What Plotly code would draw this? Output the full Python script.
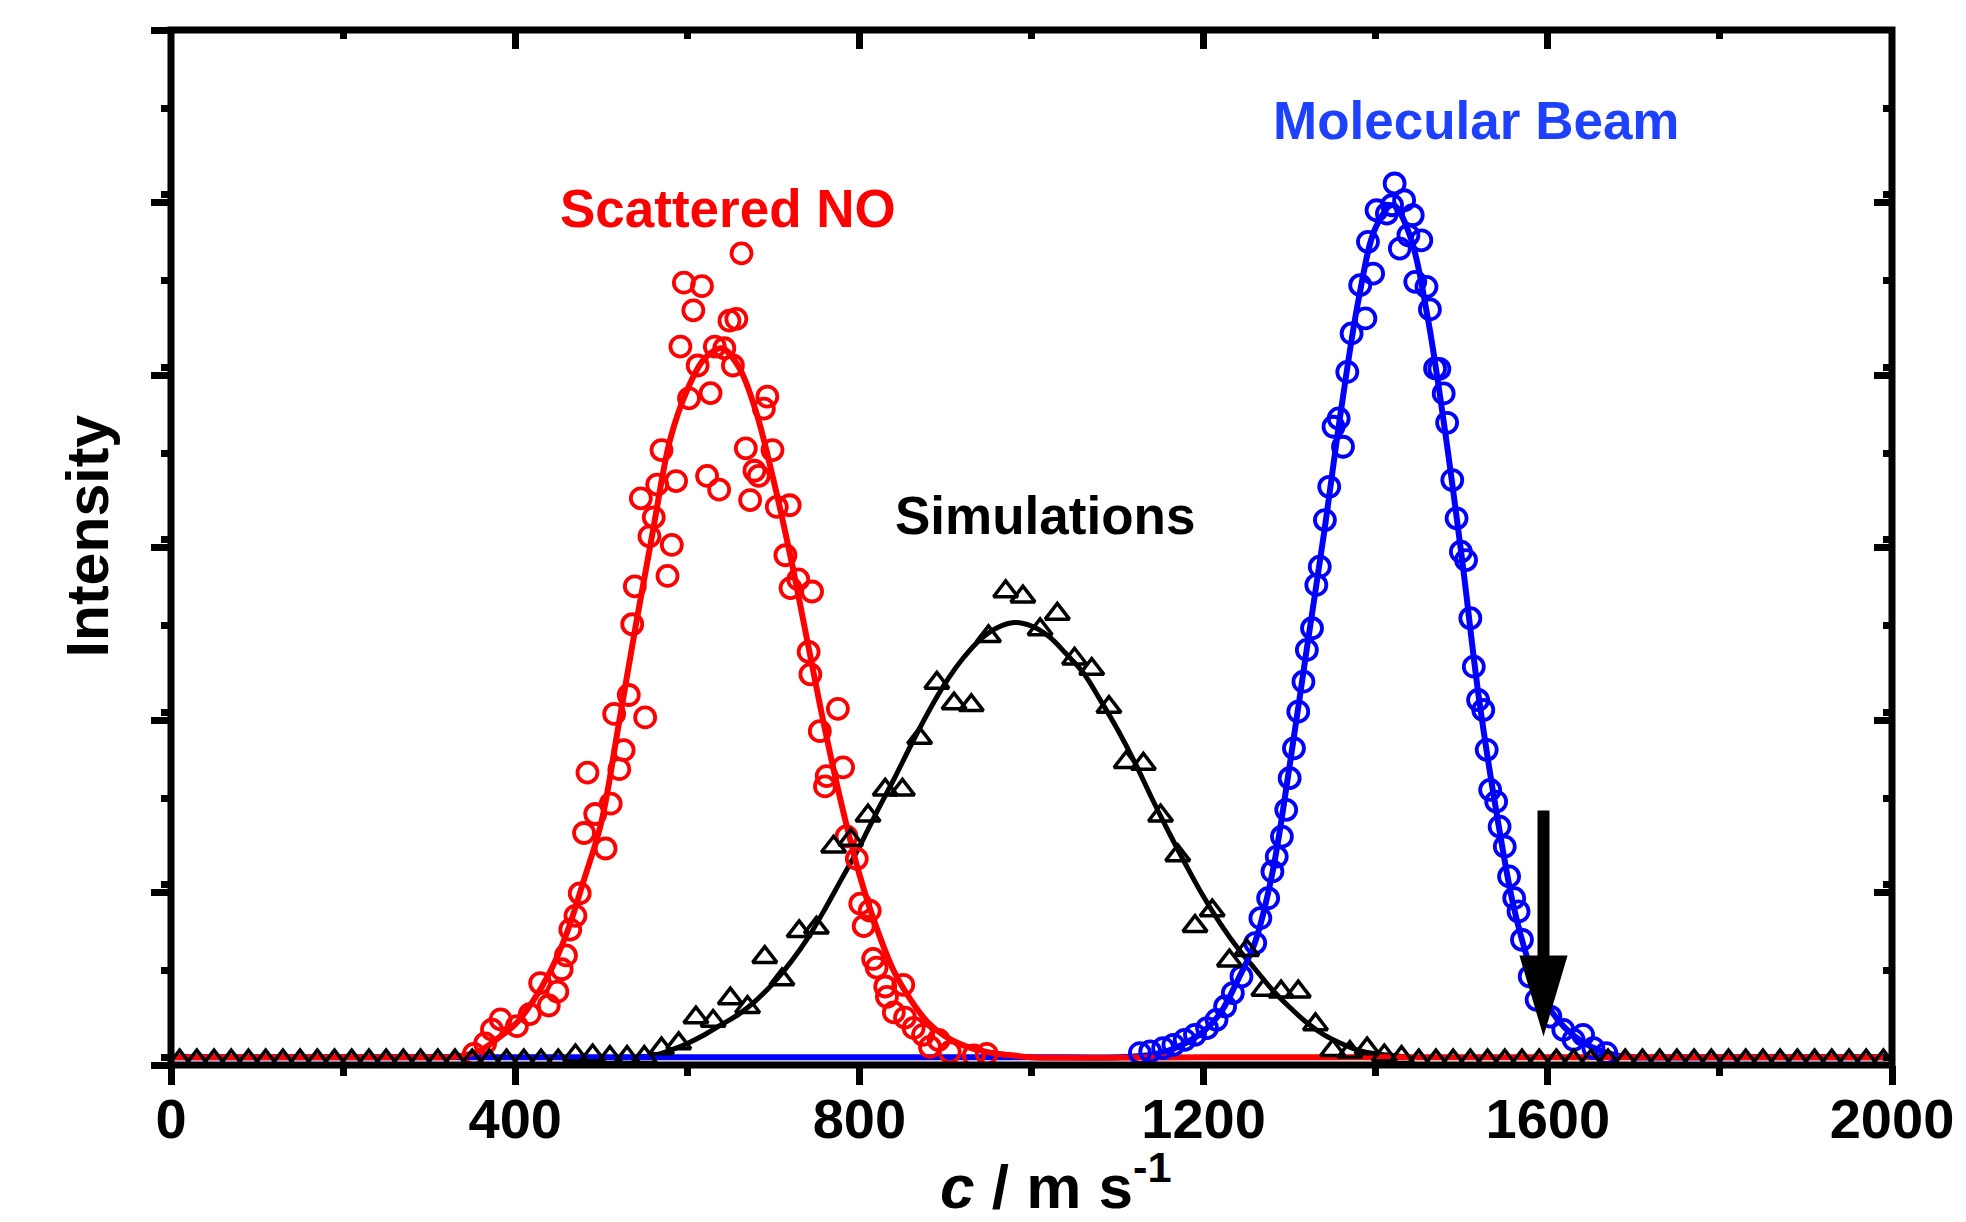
import plotly.graph_objects as go

# ---------------- Scattered NO (open red circles) ----------------
no_c = [352, 365, 373, 383, 402, 417, 429, 439, 449, 454, 459, 464, 470, 475, 480, 484,
        493, 505, 511, 515, 521, 526, 532, 536, 539, 546, 551, 556, 561, 565, 570, 577,
        582, 587, 592, 596, 602, 607, 612, 617, 623, 627, 632, 637, 643, 649, 653, 657,
        663, 668, 673, 678, 683, 689, 693, 699, 704, 714, 719, 720, 729, 741, 743, 745,
        754, 760, 762, 775, 781, 785, 797, 801, 805, 812, 816, 820, 830, 832, 840, 851,
        853, 863, 874, 882, 892, 905, 933, 948]
no_i = [0.02, 0.08, 0.16, 0.22, 0.18, 0.25, 0.43, 0.30, 0.38, 0.51, 0.59, 0.74, 0.82, 0.95, 1.30, 1.65,
        1.41, 1.21, 1.47, 1.99, 1.67, 1.78, 2.10, 2.51, 2.73, 3.24, 1.97, 3.02, 3.13, 3.32, 3.52, 2.79,
        2.97, 3.34, 4.12, 4.49, 3.82, 4.33, 4.01, 4.47, 3.37, 3.85, 4.12, 3.29, 4.11, 4.27, 4.01, 4.28,
        4.66, 3.53, 3.23, 3.40, 3.37, 3.76, 3.83, 3.52, 3.19, 2.91, 3.20, 2.72, 2.77, 2.35, 2.22, 2.70,
        1.89, 1.57, 1.63, 2.02, 1.68, 1.28, 1.15, 0.89, 0.76, 0.85, 0.57, 0.52, 0.41, 0.35, 0.26, 0.42,
        0.23, 0.17, 0.13, 0.06, 0.10, 0.03, 0.01, 0.02]

no_fit_c = [0, 150, 300, 320, 340, 360, 380, 400, 420, 440, 460, 480, 500, 520, 540, 560, 580,
            600, 620, 640, 660, 680, 700, 720, 740, 760, 780, 800, 820, 840, 860, 880, 900,
            920, 940, 960, 980, 1000, 1200, 1400, 1600, 1800, 2000]
no_fit_i = [0, 0, 0, 0, 0.01, 0.04, 0.11, 0.19, 0.32, 0.49, 0.72, 1.03, 1.36, 1.92, 2.50, 3.05, 3.58,
            3.87, 4.05, 4.11, 4.00, 3.74, 3.35, 2.90, 2.40, 1.90, 1.45, 1.06, 0.75, 0.50, 0.33, 0.20, 0.12,
            0.07, 0.04, 0.02, 0.01, 0, 0, 0, 0, 0, 0]

# ---------------- Molecular beam (open blue circles) ----------------
mb_c = [1126, 1138, 1153, 1165, 1178, 1190, 1204, 1215, 1225, 1234, 1244, 1260, 1266, 1275, 1280,
        1285, 1291, 1296, 1300, 1305, 1310, 1316, 1320, 1326, 1331, 1335, 1341, 1346, 1351, 1357,
        1362, 1367, 1372, 1382, 1388, 1391, 1397, 1401, 1413, 1419, 1422, 1428, 1433, 1438, 1443,
        1446, 1453, 1459, 1463, 1469, 1474, 1479, 1483, 1489, 1494, 1499, 1505, 1510, 1514, 1519,
        1525, 1529, 1533, 1540, 1544, 1550, 1555, 1561, 1566, 1570, 1579, 1587, 1603, 1618, 1630,
        1641, 1653, 1668]
mb_i = [0.024, 0.034, 0.053, 0.072, 0.101, 0.130, 0.169, 0.217, 0.294, 0.372, 0.468, 0.662, 0.806, 0.922, 1.077,
        1.163, 1.279, 1.434, 1.618, 1.791, 2.004, 2.177, 2.361, 2.487, 2.738, 2.844, 3.114, 3.307, 3.655, 3.703,
        3.539, 3.973, 4.196, 4.476, 4.283, 4.727, 4.543, 4.910, 4.891, 4.939, 5.065, 4.688, 4.968, 4.765, 4.881,
        4.495, 4.736, 4.466, 4.335, 3.993, 3.990, 3.848, 3.678, 3.346, 3.124, 2.931, 2.882, 2.545, 2.264, 2.071,
        2.013, 1.782, 1.550, 1.482, 1.337, 1.221, 1.048, 0.922, 0.845, 0.681, 0.468, 0.333, 0.236, 0.159, 0.101,
        0.130, 0.053, 0.024]

mb_fit_c = [0, 250, 500, 750, 1000, 1100, 1120, 1140, 1160, 1180, 1200, 1220, 1240, 1260, 1280, 1300,
            1320, 1340, 1360, 1380, 1400, 1420, 1440, 1460, 1480, 1500, 1520, 1540, 1560, 1580, 1600,
            1620, 1640, 1660, 1680, 1700, 1800, 1900, 2000]
mb_fit_i = [0, 0, 0, 0, 0, 0, 0.005, 0.015, 0.04, 0.085, 0.15, 0.26, 0.45, 0.67, 1.07, 1.69,
            2.37, 3.04, 3.76, 4.39, 4.81, 4.94, 4.76, 4.30, 3.65, 2.90, 2.08, 1.43, 0.88, 0.52, 0.30,
            0.17, 0.09, 0.04, 0.01, 0, 0, 0, 0]

# ---------------- Simulations (open black triangles) ----------------
sim_c = list(range(10, 2000, 20))
sim_i = [-0.02, -0.02, -0.02, -0.02, -0.02, -0.02, -0.02, -0.02, -0.02, -0.02,
         -0.02, -0.02, -0.02, -0.02, -0.02, -0.02, -0.02, -0.02, -0.02, -0.02,
         -0.02, -0.02, -0.02, 0.01, 0.01, 0.0, 0.0, 0.0, 0.05, 0.08,
         0.23, 0.21, 0.34, 0.29, 0.58, 0.45, 0.73, 0.75, 1.22, 1.26,
         1.40, 1.55, 1.55, 1.85, 2.17, 2.05, 2.04, 2.44, 2.70, 2.67,
         2.48, 2.57, 2.31, 2.25, 2.03, 1.71, 1.70, 1.40, 1.17, 0.76,
         0.85, 0.56, 0.62, 0.39, 0.38, 0.38, 0.19, 0.04, 0.03, 0.05,
         0.01, 0.0, -0.02, -0.02, -0.02, -0.02, -0.02, -0.02, -0.02, -0.02,
         -0.02, -0.02, -0.02, -0.02, -0.02, -0.02, -0.02, -0.02, -0.02, -0.02,
         -0.02, -0.02, -0.02, -0.02, -0.02, -0.02, -0.02, -0.02, -0.02, -0.02]

sim_fit_c = [540, 560, 580, 600, 620, 640, 660, 680, 700, 720, 740, 760, 780, 800, 820, 840, 860,
             880, 900, 920, 940, 960, 980, 1000, 1020, 1040, 1060, 1080, 1100, 1120, 1140, 1160,
             1180, 1200, 1220, 1240, 1260, 1280, 1300, 1320, 1340, 1360, 1380, 1400, 1420, 1440]
sim_fit_i = [0.0, 0.01, 0.04, 0.08, 0.13, 0.19, 0.25, 0.33, 0.43, 0.55, 0.69, 0.86, 1.04, 1.22, 1.42, 1.61, 1.81,
             2.00, 2.17, 2.31, 2.42, 2.49, 2.52, 2.50, 2.44, 2.34, 2.23, 2.07, 1.90, 1.71, 1.50, 1.30,
             1.11, 0.93, 0.77, 0.63, 0.51, 0.39, 0.29, 0.20, 0.13, 0.08, 0.04, 0.02, 0.01, 0.0]

# Marker indicating the speed of interest
ARROW_C = 1595
ARROW_TOP = 1.43
ARROW_HEAD_BASE = 0.59
ARROW_TIP = 0.12
ARROW_HALF_WIDTH = 28

X_RANGE = [0, 2000]
Y_RANGE = [-0.045, 5.955]

RED = "#ff0000"
BLUE = "#0000ff"
LABEL_BLUE = "#1e40ff"
FONT = "Liberation Sans, Arial, Helvetica, sans-serif"

fig = go.Figure()

fig.add_trace(go.Scatter(x=sim_fit_c, y=sim_fit_i, mode="lines",
                         line=dict(color="black", width=5, shape="spline"), hoverinfo="skip"))
fig.add_trace(go.Scatter(x=mb_fit_c, y=mb_fit_i, mode="lines",
                         line=dict(color=BLUE, width=6, shape="spline"), hoverinfo="skip"))
fig.add_trace(go.Scatter(x=no_fit_c, y=no_fit_i, mode="lines",
                         line=dict(color=RED, width=6, shape="spline"), hoverinfo="skip"))
fig.add_trace(go.Scatter(x=mb_c, y=mb_i, mode="markers",
                         marker=dict(symbol="circle-open", size=20, color=BLUE,
                                     line=dict(width=3.8, color=BLUE))))
fig.add_trace(go.Scatter(x=no_c, y=no_i, mode="markers",
                         marker=dict(symbol="circle-open", size=20, color=RED,
                                     line=dict(width=3.8, color=RED))))
fig.add_trace(go.Scatter(x=sim_c, y=sim_i, mode="markers",
                         marker=dict(symbol="triangle-up-open", size=21, color="black",
                                     line=dict(width=3.5, color="black"))))
# carrier for the mirrored top/right axes
fig.add_trace(go.Scatter(x=[None], y=[None], xaxis="x2", yaxis="y2", mode="markers",
                         showlegend=False, hoverinfo="skip"))

tick_common = dict(tickcolor="black", tickwidth=7, showgrid=False, zeroline=False,
                   showline=False)

fig.update_layout(
    width=1966, height=1222,
    margin=dict(l=171, r=74, t=30, b=157),
    paper_bgcolor="white", plot_bgcolor="white",
    showlegend=False,
    xaxis=dict(range=X_RANGE, tick0=0, dtick=400, ticks="outside", ticklen=19,
               minor=dict(dtick=200, ticks="outside", ticklen=9.5, tickwidth=7, tickcolor="black"),
               tickfont=dict(family=FONT, size=56, color="black", weight="bold"),
               ticklabelstandoff=-14, **tick_common),
    yaxis=dict(range=Y_RANGE, tick0=Y_RANGE[0], dtick=1, ticks="outside", ticklen=19,
               minor=dict(dtick=0.5, ticks="outside", ticklen=9.5, tickwidth=7, tickcolor="black"),
               showticklabels=False, **tick_common),
    xaxis2=dict(range=X_RANGE, overlaying="x", side="top", anchor="y2", tick0=0, dtick=400,
                ticks="inside", ticklen=18.5,
                minor=dict(dtick=200, ticks="inside", ticklen=9, tickwidth=7, tickcolor="black"),
                showticklabels=False, **tick_common),
    yaxis2=dict(range=Y_RANGE, overlaying="y", side="right", anchor="x2", tick0=Y_RANGE[0], dtick=1,
                ticks="inside", ticklen=18.5,
                minor=dict(dtick=0.5, ticks="inside", ticklen=9, tickwidth=7, tickcolor="black"),
                showticklabels=False, **tick_common),
)

# plot frame
fig.add_shape(type="rect", xref="paper", yref="paper", x0=0, y0=0, x1=1, y1=1,
              line=dict(color="black", width=7), layer="above")

# arrow: shaft and head
fig.add_shape(type="line", xref="x", yref="y", x0=ARROW_C, x1=ARROW_C,
              y0=ARROW_TOP, y1=ARROW_HEAD_BASE - 0.02,
              line=dict(color="black", width=12), layer="above")
fig.add_shape(type="path", xref="x", yref="y",
              path=(f"M {ARROW_C - ARROW_HALF_WIDTH},{ARROW_HEAD_BASE} "
                    f"L {ARROW_C + ARROW_HALF_WIDTH},{ARROW_HEAD_BASE} "
                    f"L {ARROW_C},{ARROW_TIP} Z"),
              fillcolor="black", line=dict(width=0), layer="above")

label_font = dict(family=FONT, size=53, weight="bold")
fig.add_annotation(x=647, y=4.92, text="Scattered NO", showarrow=False,
                   font=dict(color=RED, **label_font), xanchor="center", yanchor="middle")
fig.add_annotation(x=1016, y=3.14, text="Simulations", showarrow=False,
                   font=dict(color="black", **label_font), xanchor="center", yanchor="middle")
fig.add_annotation(x=1517, y=5.43, text="Molecular Beam", showarrow=False,
                   font=dict(color=LABEL_BLUE, **label_font), xanchor="center", yanchor="middle")

# axis titles
fig.add_annotation(xref="paper", yref="paper", x=0.514, y=-0.113,
                   text="<i>c</i> / m s<sup>-1</sup>", showarrow=False,
                   font=dict(family=FONT, size=62, color="black", weight="bold"),
                   xanchor="center", yanchor="middle")
fig.add_annotation(xref="paper", yref="paper", x=-0.048, y=0.511, text="Intensity",
                   textangle=-90, showarrow=False,
                   font=dict(family=FONT, size=59, color="black", weight="bold"),
                   xanchor="center", yanchor="middle")

fig.write_html("out.html")
